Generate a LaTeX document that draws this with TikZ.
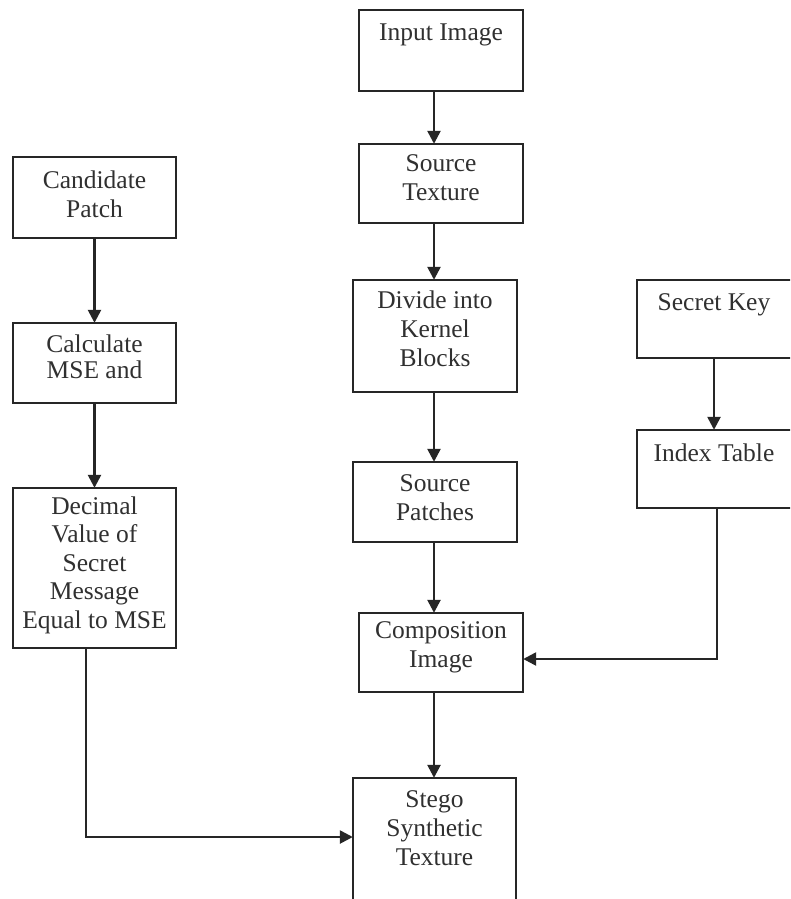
\documentclass[tikz,border=0pt]{standalone}
\usepackage{fontspec}
\setmainfont{Liberation Serif}
\usetikzlibrary{arrows.meta}
\definecolor{ink}{HTML}{262626}
\definecolor{txt}{HTML}{303030}
\tikzset{
  boxst/.style={draw=ink, line width=2.8pt, fill=none},
  lbl/.style={inner sep=0pt, align=center, text=txt, font=\fontsize{25.5}{29}\selectfont},
  conn/.style={draw=ink, line width=2.5pt, -{Triangle[width=13pt,length=13pt]}}
}
\begin{document}
\begin{tikzpicture}[x=1pt,y=-1pt]
\useasboundingbox (0,0) rectangle (790,899);
\clip (0,0) rectangle (790,899);
\fill[white] (0,0) rectangle (790,899);
% boxes
\draw[boxst] (359,10) rectangle (523,91);
\node[draw=none,minimum width=164pt,minimum height=81pt,inner sep=0pt] (input) at (441,50.5) {};
\node[lbl] (inputT) at (441,35) {Input Image};

\draw[boxst] (359,144) rectangle (523,223);
\node[draw=none,minimum width=164pt,minimum height=79pt,inner sep=0pt] (srctex) at (441,183.5) {};
\node[lbl] (srctexT) at (441,178) {Source\\Texture};

\draw[boxst] (353,280) rectangle (517,392);
\node[draw=none,minimum width=164pt,minimum height=112pt,inner sep=0pt] (divide) at (435,336) {};
\node[lbl] (divideT) at (435,329) {Divide into\\Kernel\\Blocks};

\draw[boxst] (353,462) rectangle (517,542);
\node[draw=none,minimum width=164pt,minimum height=80pt,inner sep=0pt] (patches) at (435,502) {};
\node[lbl] (patchesT) at (435,497.5) {Source\\Patches};

\draw[boxst] (359,613) rectangle (523,692);
\node[draw=none,minimum width=164pt,minimum height=79pt,inner sep=0pt] (comp) at (441,652.5) {};
\node[lbl] (compT) at (441,647.5) {Composition\\Image};

\draw[boxst] (353,778) rectangle (516,930);
\node[draw=none,minimum width=163pt,minimum height=152pt,inner sep=0pt] (stego) at (434.5,854) {};
\node[lbl] (stegoT) at (434.5,828) {Stego\\Synthetic\\Texture};

\draw[boxst] (13,157) rectangle (176,238);
\node[draw=none,minimum width=163pt,minimum height=81pt,inner sep=0pt] (cand) at (94.5,197.5) {};
\node[lbl] (candT) at (94.5,194) {Candidate\\Patch};

\draw[boxst] (13,323) rectangle (176,403);
\node[draw=none,minimum width=163pt,minimum height=80pt,inner sep=0pt] (calc) at (94.5,363) {};
\node[lbl,font=\fontsize{25.5}{26}\selectfont] (calcT) at (94.5,357) {Calculate\\MSE and};

\draw[boxst] (13,488) rectangle (176,648);
\node[draw=none,minimum width=163pt,minimum height=160pt,inner sep=0pt] (dec) at (94.5,568) {};
\node[lbl,font=\fontsize{25.5}{28.5}\selectfont] (decT) at (94.5,565) {Decimal\\Value of\\Secret\\Message\\Equal to MSE};

\draw[boxst] (637,280) rectangle (810,358);
\node[draw=none,minimum width=173pt,minimum height=78pt,inner sep=0pt] (key) at (723.5,319) {};
\node[lbl] (keyT) at (714,305) {Secret Key};

\draw[boxst] (637,430) rectangle (810,508);
\node[draw=none,minimum width=173pt,minimum height=78pt,inner sep=0pt] (index) at (723.5,469) {};
\node[lbl] (indexT) at (714,453) {Index Table};

% connectors
\draw[conn] ([xshift=-7pt]input.south) -- ([xshift=-7pt]srctex.north);
\draw[conn] ([xshift=-7pt]srctex.south) -- ([xshift=-1pt]divide.north);
\draw[conn] ([xshift=-1pt]divide.south) -- ([xshift=-1pt]patches.north);
\draw[conn] ([xshift=-1pt]patches.south) -- ([xshift=-7pt]comp.north);
\draw[conn] ([xshift=-7pt]comp.south) -- ([xshift=-0.5pt]stego.north);
\draw[conn] (cand.south) -- (calc.north);
\draw[conn] (calc.south) -- (dec.north);
\coordinate (decCorner) at (86,837);
\draw[conn] ([xshift=-8.5pt]dec.south) -- (decCorner) -- (stego.west |- decCorner);
\draw[conn] ([xshift=-9.5pt]key.south) -- ([xshift=-9.5pt]index.north);
\coordinate (idxCorner) at (717,659);
\draw[conn] ([xshift=-6.5pt]index.south) -- (idxCorner) -- (comp.east |- idxCorner);
\end{tikzpicture}
\end{document}
